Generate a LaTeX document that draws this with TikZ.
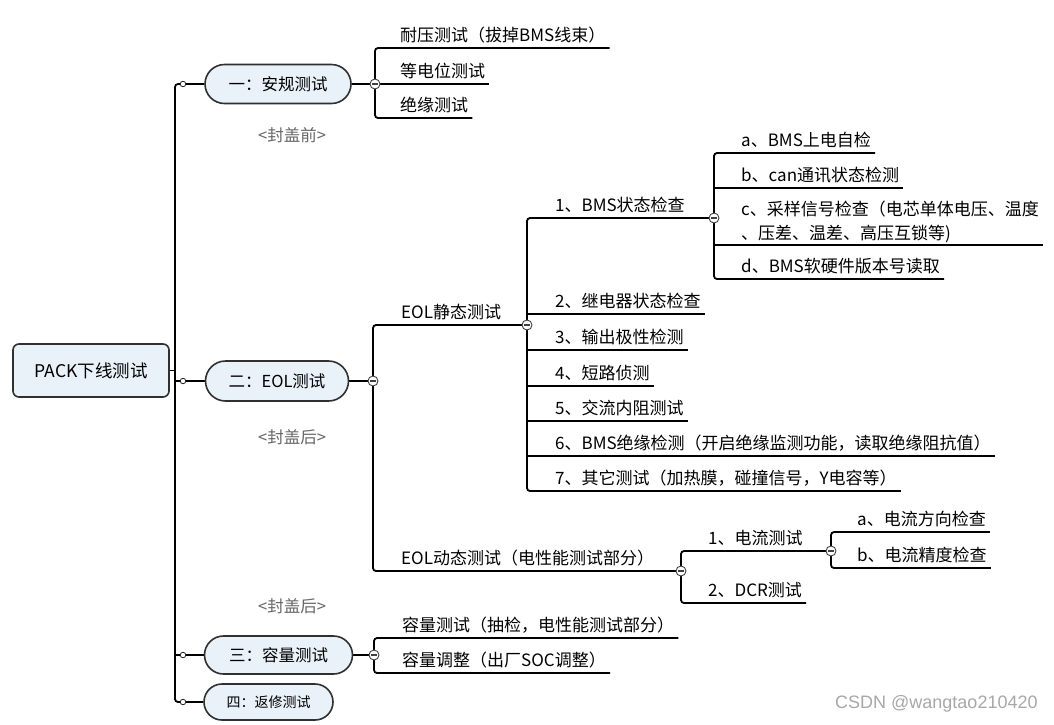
\documentclass[tikz,border=0pt]{standalone}
\usepackage{fontspec}
\newfontfamily\cjk{Noto Sans CJK SC}
\newfontfamily\wmfont{Liberation Sans}
\usetikzlibrary{calc}
\pgfdeclarelayer{bg}
\pgfsetlayers{bg,main}
\definecolor{pillfill}{HTML}{E9F1F9}
\definecolor{pillline}{HTML}{303030}
\definecolor{notegray}{HTML}{666666}
\definecolor{wmgray}{HTML}{A8A8A8}
\begin{document}
\begin{tikzpicture}[x=1pt,y=-1pt,
  ln/.style={line width=1.8pt, black},
  brk/.style={ln, rounded corners=3pt},
  leaf/.style={font=\cjk\fontsize{17}{20}\selectfont, inner sep=0pt, anchor=base west},
  pill/.style={draw=pillline, line width=1.6pt, fill=pillfill, font=\cjk\fontsize{16.5}{20}\selectfont, inner sep=0pt},
  rootbox/.style={draw=pillline, line width=1.6pt, fill=pillfill, rounded corners=6pt, font=\cjk\fontsize{17.5}{20}\selectfont, minimum width=156pt, minimum height=53pt, inner sep=0pt},
  knob/.style={circle, draw=black!75, fill=white, line width=0.9pt, minimum size=10pt, inner sep=0pt,
    path picture={\draw[line width=1.3pt] ([xshift=-2.6pt]path picture bounding box.center) -- ([xshift=2.6pt]path picture bounding box.center);}},
  dot/.style={circle, draw=black!85, fill=white, line width=0.8pt, minimum size=5.5pt, inner sep=0pt},
  note/.style={font=\cjk\fontsize{16.5}{18}\selectfont, text=notegray, inner sep=0pt},
]
\begin{pgfonlayer}{bg}
\fill[white] (0,0) rectangle (1054,724);
\end{pgfonlayer}
\useasboundingbox (0,0) rectangle (1054,724);

% root and main branches
\node[rootbox] (root) at (91,370.5) {PACK下线测试};
\node[pill, rounded corners=19.5pt, minimum width=146pt, minimum height=39pt] (p1) at (278,84) {一：安规测试};
\node[pill, rounded corners=20pt, minimum width=143pt, minimum height=40pt] (p2) at (277,381) {二：EOL测试};
\node[pill, rounded corners=19pt, minimum width=148pt, minimum height=38pt] (p3) at (278.5,655) {三：容量测试};
\node[pill, rounded corners=18pt, minimum width=129pt, minimum height=36pt, font=\cjk\fontsize{14}{16}\selectfont] (p4) at (268.5,702) {四：返修测试};

\coordinate (trunk) at (175,0);
\node[dot] (d1) at (183,84) {};
\node[dot] (d2) at (183,381) {};
\node[dot] (d3) at (183,655) {};
\node[dot] (d4) at (183,702) {};

% notes
\node[note] (n1) at (292,135) {<封盖前>};
\node[note] (n2) at (292,437) {<封盖后>};
\node[note] (n3) at (292,606) {<封盖后>};

% branch 1 leaves
\node[leaf] (a1) at (400,41) {耐压测试（拔掉BMS线束）};
\node[leaf] (a2) at (400,77) {等电位测试};
\node[leaf] (a3) at (400,111) {绝缘测试};

% branch 2
\node[leaf] (b1) at (401,318) {EOL静态测试};
\node[leaf] (b2) at (401,564) {EOL动态测试（电性能测试部分）};

\node[leaf] (c1) at (555,211) {1、BMS状态检查};
\node[leaf] (c2) at (555,307) {2、继电器状态检查};
\node[leaf] (c3) at (555,343) {3、输出极性检测};
\node[leaf] (c4) at (555,379) {4、短路侦测};
\node[leaf] (c5) at (555,414) {5、交流内阻测试};
\node[leaf] (c6) at (555,449) {6、BMS绝缘检测（开启绝缘监测功能，读取绝缘阻抗值）};
\node[leaf] (c7) at (555,484) {7、其它测试（加热膜，碰撞信号，Y电容等）};

\node[leaf] (e1) at (741,146) {a、BMS上电自检};
\node[leaf] (e2) at (741,181) {b、can通讯状态检测};
\node[leaf] (e3) at (741,215) {c、采样信号检查（电芯单体电压、温度};
\node[leaf] (e3b) at (741,239) {、压差、温差、高压互锁等)};
\node[leaf] (e4) at (741,272) {d、BMS软硬件版本号读取};

\node[leaf] (f1) at (708,544) {1、电流测试};
\node[leaf] (f2) at (708,596) {2、DCR测试};

\node[leaf] (g1) at (857,525) {a、电流方向检查};
\node[leaf] (g2) at (857,561) {b、电流精度检查};

% branch 3
\node[leaf] (h1) at (402,631) {容量测试（抽检，电性能测试部分）};
\node[leaf] (h2) at (402,666) {容量调整（出厂SOC调整）};

% collapse knobs
\node[knob] (k1) at (375,84) {};
\node[knob] (k2) at (373,381) {};
\node[knob] (k21) at (527,325) {};
\node[knob] (k211) at (714,218) {};
\node[knob] (k22) at (681,571) {};
\node[knob] (k221) at (831,551) {};
\node[knob] (k3) at (374,655) {};

% watermark
\node[anchor=west, font=\wmfont\fontsize{18}{20}\selectfont, text=wmgray, inner sep=0pt] (wm) at (835,704) {CSDN @wangtao210420};

\begin{pgfonlayer}{bg}
% trunk
\draw[ln] (root.east) -- (root.east -| trunk);
\draw[brk] (d1.center) -- (d1 -| trunk) -- (d4 -| trunk) -- (d4.center);
\draw[ln] (d2 -| trunk) -- (d2.center);
\draw[ln] (d3 -| trunk) -- (d3.center);
\draw[ln] (d1) -- (p1);
\draw[ln] (d2) -- (p2);
\draw[ln] (d3) -- (p3);
\draw[ln] (d4) -- (p4);
\draw[ln] (p1) -- (k1);
\draw[ln] (p2) -- (k2);
\draw[ln] (p3) -- (k3);

% branch 1 bracket
\draw[brk] ($(a1.base east)+(4,7)$) -- (375,48) -- (375,118) -- ($(a3.base east)+(4,7)$);
\draw[ln] (k1.center) -- ($(a2.base east)+(4,7)$);

% branch 2 bracket
\draw[brk] (k21.center) -- (373,325) -- (373,571) -- (k22.center);

% static bracket
\draw[brk] (k211.center) -- (527,218) -- (527,491) -- ($(c7.base east)+(4,7)$);
\draw[ln] (527,314) -- ($(c2.base east)+(4,7)$);
\draw[ln] (527,350) -- ($(c3.base east)+(4,7)$);
\draw[ln] (527,386) -- ($(c4.base east)+(4,7)$);
\draw[ln] (527,421) -- ($(c5.base east)+(4,7)$);
\draw[ln] (527,456) -- ($(c6.base east)+(4,7)$);

% BMS bracket
\draw[brk] ($(e1.base east)+(4,7)$) -- (714,153) -- (714,279) -- ($(e4.base east)+(4,7)$);
\draw[ln] (714,188) -- ($(e2.base east)+(4,7)$);
\draw[ln] (714,245) -- ($(e3.base east)+(4,30)$);

% dynamic bracket
\draw[brk] (k221.center) -- (681,551) -- (681,603) -- ($(f2.base east)+(4,7)$);

% current bracket
\draw[brk] ($(g1.base east)+(4,7)$) -- (831,532) -- (831,568) -- ($(g2.base east)+(4,7)$);

% capacity bracket
\draw[brk] ($(h1.base east)+(4,7)$) -- (374,638) -- (374,673) -- ($(h2.base east)+(4,7)$);
\end{pgfonlayer}
\end{tikzpicture}
\end{document}
